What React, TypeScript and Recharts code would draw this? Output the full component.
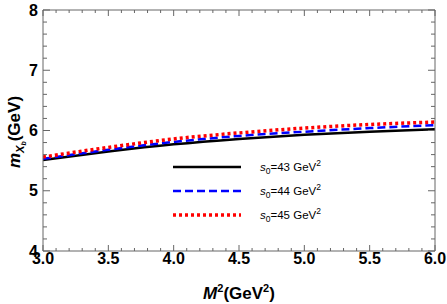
import { LineChart, Line, XAxis, YAxis, Legend } from 'recharts';

// M^2 (GeV^2) and mass curves for three thresholds
const m2 = [3.0, 3.5, 4.0, 4.5, 5.0, 5.5, 6.0];
const s43 = [5.51, 5.65, 5.77, 5.86, 5.93, 5.98, 6.02];
const s44 = [5.53, 5.68, 5.81, 5.91, 5.98, 6.04, 6.09];
const s45 = [5.56, 5.72, 5.86, 5.96, 6.04, 6.10, 6.14];

const xMajor = [3.0, 3.5, 4.0, 4.5, 5.0, 5.5, 6.0];
const xMinor = [3.1, 3.2, 3.3, 3.4, 3.6, 3.7, 3.8, 3.9, 4.1, 4.2, 4.3, 4.4, 4.6, 4.7, 4.8, 4.9, 5.1, 5.2, 5.3, 5.4, 5.6, 5.7, 5.8, 5.9];
const yMajor = [4, 5, 6, 7, 8];
const yMinor = [4.2, 4.4, 4.6, 4.8, 5.2, 5.4, 5.6, 5.8, 6.2, 6.4, 6.6, 6.8, 7.2, 7.4, 7.6, 7.8];

const xTicks = [...xMajor, ...xMinor].sort((a, b) => a - b);
const yTicks = [...yMajor, ...yMinor].sort((a, b) => a - b);

const series = [
  { key: 's43', s0: '43', color: '#000000', width: 2.5, dash: undefined },
  { key: 's44', s0: '44', color: '#0000ff', width: 2.5, dash: '8 4' },
  { key: 's45', s0: '45', color: '#ff0000', width: 3.5, dash: '3 3' },
];

const data = m2.map((x, i) => ({ x, s43: s43[i], s44: s44[i], s45: s45[i] }));

const FONT = '"Liberation Sans", Arial, sans-serif';
const FRAME = '#666';
const tickFont = { fontFamily: FONT, fontSize: 16, fontWeight: 'bold', fill: '#000' };

// inward tick marks, labels only on major ticks
const BottomTick = (p: any) => {
  const v = p.payload.value;
  const major = xMajor.includes(v);
  return (
    <g>
      <line x1={p.x} x2={p.x} y1={p.y} y2={p.y - (major ? 6 : 3)} stroke={FRAME} />
      {major && (
        <text x={p.x} y={p.y + 2} dy="0.71em" textAnchor="middle" style={tickFont}>
          {v.toFixed(1)}
        </text>
      )}
    </g>
  );
};

const TopTick = (p: any) => {
  const major = xMajor.includes(p.payload.value);
  return <line x1={p.x} x2={p.x} y1={p.y} y2={p.y + (major ? 6 : 3)} stroke={FRAME} />;
};

const LeftTick = (p: any) => {
  const v = p.payload.value;
  const major = yMajor.includes(v);
  const x0 = p.x + 5;
  return (
    <g>
      <line x1={x0} x2={x0 + (major ? 7 : 4)} y1={p.y} y2={p.y} stroke={FRAME} />
      {major && (
        <text x={p.x} y={p.y} dy="0.355em" textAnchor="end" style={tickFont}>
          {v}
        </text>
      )}
    </g>
  );
};

const RightTick = (p: any) => {
  const major = yMajor.includes(p.payload.value);
  return <line x1={p.x} x2={p.x - (major ? 7 : 4)} y1={p.y} y2={p.y} stroke={FRAME} />;
};

const LegendBox = () => (
  <div style={{ fontFamily: FONT, fontSize: 11.5 }}>
    {series.map((s) => (
      <div key={s.key} style={{ display: 'flex', alignItems: 'center', height: 24 }}>
        <svg width={68} height={10}>
          <line x1={0} y1={5} x2={68} y2={5} stroke={s.color} strokeWidth={s.width} strokeDasharray={s.dash} />
        </svg>
        <span style={{ marginLeft: 19 }}>
          <i>s</i>
          <sub style={{ fontSize: 8.5 }}>0</sub>={s.s0} GeV<sup style={{ fontSize: 8.5 }}>2</sup>
        </span>
      </div>
    ))}
  </div>
);

const XLabel = () => (
  <text x={239} y={299} textAnchor="middle" fontFamily={FONT} fontSize={17} fontWeight="bold" fill="#000">
    <tspan fontStyle="italic">M</tspan>
    <tspan fontSize={11} dy={-7}>2</tspan>
    <tspan dy={7}>(GeV</tspan>
    <tspan fontSize={11} dy={-7}>2</tspan>
    <tspan dy={7}>)</tspan>
  </text>
);

const YLabel = () => (
  <text x={0} y={0} transform="translate(20,132) rotate(-90)" textAnchor="middle" fontFamily={FONT} fontSize={17} fontWeight="bold" fill="#000">
    <tspan fontStyle="italic">m</tspan>
    <tspan fontStyle="italic" fontSize={11} dy={4}>X</tspan>
    <tspan fontStyle="italic" fontSize={7} dy={2}>b</tspan>
    <tspan dy={-6}>(GeV)</tspan>
  </text>
);

export default function App() {
  return (
    <div style={{ position: 'absolute', left: 0, top: 0 }}>
      <LineChart width={447} height={304} data={data} margin={{ top: 0, right: 0, left: 0, bottom: 0 }}>
        <XAxis
          xAxisId="b"
          dataKey="x"
          type="number"
          domain={[3, 6]}
          allowDataOverflow
          ticks={xTicks}
          interval={0}
          tick={BottomTick}
          tickLine={false}
          tickSize={0}
          tickMargin={0}
          height={53}
          stroke={FRAME}
          label={<XLabel />}
        />
        <XAxis
          xAxisId="t"
          orientation="top"
          dataKey="x"
          type="number"
          domain={[3, 6]}
          allowDataOverflow
          ticks={xTicks}
          interval={0}
          tick={TopTick}
          tickLine={false}
          tickSize={0}
          tickMargin={0}
          height={10}
          stroke={FRAME}
        />
        <YAxis
          yAxisId="l"
          type="number"
          domain={[4, 8]}
          allowDataOverflow
          ticks={yTicks}
          interval={0}
          tick={LeftTick}
          tickLine={false}
          tickSize={0}
          tickMargin={5}
          width={43}
          stroke={FRAME}
          label={<YLabel />}
        />
        <YAxis
          yAxisId="r"
          orientation="right"
          type="number"
          domain={[4, 8]}
          allowDataOverflow
          ticks={yTicks}
          interval={0}
          tick={RightTick}
          tickLine={false}
          tickSize={0}
          tickMargin={0}
          width={12}
          stroke={FRAME}
        />
        <Legend
          layout="vertical"
          align="center"
          verticalAlign="middle"
          content={<LegendBox />}
          wrapperStyle={{ left: 173, top: 155, width: 'auto', height: 'auto' }}
        />
        {series.map((s) => (
          <Line
            key={s.key}
            xAxisId="b"
            yAxisId="l"
            dataKey={s.key}
            type="monotone"
            stroke={s.color}
            strokeWidth={s.width}
            strokeDasharray={s.dash}
            dot={false}
            isAnimationActive={false}
          />
        ))}
      </LineChart>
    </div>
  );
}
